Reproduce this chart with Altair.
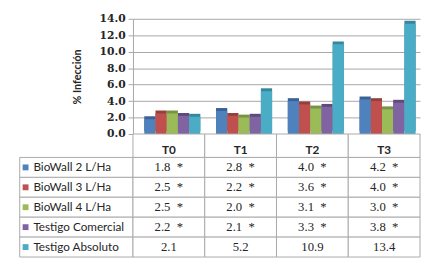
import altair as alt
import pandas as pd

periods = ["T0", "T1", "T2", "T3"]
series = ["BioWall 2 L/Ha", "BioWall 3 L/Ha", "BioWall 4 L/Ha",
          "Testigo Comercial", "Testigo Absoluto"]
bw2 = [1.8, 2.8, 4.0, 4.2]
bw3 = [2.5, 2.2, 3.6, 4.0]
bw4 = [2.5, 2.0, 3.1, 3.0]
tcom = [2.2, 2.1, 3.3, 3.8]
tabs = [2.1, 5.2, 10.9, 13.4]
signif = ["*", "*", "*", "*", ""]
y_ticks = [0, 2, 4, 6, 8, 10, 12, 14]

front_colors = ["#4F81BD", "#C0504D", "#9BBB59", "#8064A2", "#4BACC6"]
side_colors = ["#3A6294", "#94403D", "#779343", "#5F4A7C", "#36869C"]
border = "#A9A9A9"
grid = "#A6A6A6"
txtc = "#262626"

rows = []
for s, vals, mk in zip(series, [bw2, bw3, bw4, tcom, tabs], signif):
    for p, v in zip(periods, vals):
        rows.append({"series": s, "period": p, "value": v,
                     "label": (f"{v:.1f}\u2002{mk}").strip()})
df = pd.DataFrame(rows)

band0 = alt.Scale(paddingInner=0, paddingOuter=0)

# --- bar chart ---
x_enc = alt.X("period:N", sort=periods, scale=band0, axis=None)
xoff = alt.XOffset("series:N", sort=series,
                   scale=alt.Scale(paddingInner=0, paddingOuter=0.7, align=0.72))
y_enc = alt.Y("value:Q", scale=alt.Scale(domain=[0, 14], nice=False),
              axis=alt.Axis(values=y_ticks, format=".1f", title="% Infección",
                            grid=True, gridColor=grid, domainColor=grid,
                            tickColor=grid, tickSize=5, labelPadding=3,
                            labelFont="DejaVu Serif", labelFontSize=11,
                            labelFontWeight="bold", labelColor=txtc,
                            titleFont="Lato", titleFontSize=11,
                            titleFontWeight="bold", titleColor=txtc,
                            titlePadding=17))
base = alt.Chart(df).encode(x=x_enc, xOffset=xoff, y=y_enc)
back = base.mark_bar(xOffset=3, yOffset=-3).encode(
    color=alt.Color("series:N", scale=alt.Scale(domain=series, range=side_colors), legend=None))
front = base.mark_bar().encode(
    color=alt.Color("series:N", scale=alt.Scale(domain=series, range=front_colors), legend=None))
bars = alt.layer(back, front).resolve_scale(color="independent").properties(width=294, height=118)


def spacer(h):
    return alt.Chart(pd.DataFrame({"a": [0]})).mark_point(opacity=0).encode(
        x=alt.value(0), y=alt.value(0)).properties(width=116, height=h)


# --- header row ---
hdr_df = pd.DataFrame({"period": periods})
hx = alt.X("period:N", sort=periods, scale=band0, axis=None)
header = alt.layer(
    alt.Chart(hdr_df).mark_rect(fill="white", stroke=border, strokeWidth=1).encode(x=hx),
    alt.Chart(hdr_df).mark_text(font="Lato", fontWeight="bold", fontSize=12,
                                color=txtc, dy=4).encode(x=hx, text="period:N"),
).properties(width=294, height=24)

# --- values table ---
vx = alt.X("period:N", sort=periods, scale=band0, axis=None)
vy = alt.Y("series:N", sort=series, scale=band0, axis=None)
vtable = alt.layer(
    alt.Chart(df).mark_rect(fill="white", stroke=border, strokeWidth=1).encode(x=vx, y=vy),
    alt.Chart(df).mark_text(font="Liberation Serif", fontSize=13, color=txtc).encode(
        x=vx, y=vy, text="label:N"),
).properties(width=294, height=102)

# --- legend column ---
ldf = pd.DataFrame({"series": series})
ly = alt.Y("series:N", sort=series, scale=band0, axis=None)
legend = alt.layer(
    alt.Chart(ldf).mark_rect(fill="white", stroke=border, strokeWidth=1).encode(y=ly),
    alt.Chart(ldf).mark_square(size=36, opacity=1).encode(
        y=ly, x=alt.value(6),
        color=alt.Color("series:N", scale=alt.Scale(domain=series, range=front_colors), legend=None)),
    alt.Chart(ldf).mark_text(align="left", font="Lato", fontSize=12, color=txtc).encode(
        y=ly, x=alt.value(14), text="series:N"),
).properties(width=116, height=102)

chart = alt.concat(
    spacer(118), bars,
    spacer(24), header,
    legend, vtable,
    columns=2, spacing=0, bounds="flush",
).properties(
    padding={"left": 9, "top": 2, "right": 0, "bottom": 0}
).configure_view(stroke=None)

chart.save("out.html", embed_options={"renderer": "svg", "actions": False})
